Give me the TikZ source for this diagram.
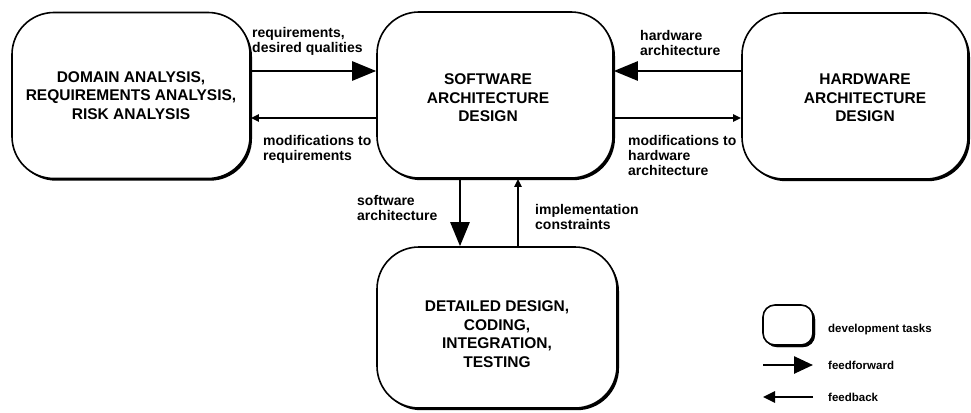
\documentclass[tikz,border=0pt]{standalone}
\usepackage{fontspec}
\setmainfont{Liberation Sans}
\usetikzlibrary{arrows.meta,shadows}
\begin{document}
\begin{tikzpicture}[x=1pt,y=-1pt,
  task/.style={draw,line width=1.6pt,rounded corners=42pt,align=center,
    font=\fontsize{15.5}{18.5}\selectfont\bfseries,
    drop shadow={shadow xshift=2pt,shadow yshift=-2.2pt,fill=black,opacity=1},fill=white},
  lbl/.style={align=left,inner sep=0pt,anchor=north west,
    font=\fontsize{14}{15}\selectfont\bfseries},
  legtxt/.style={inner sep=0pt,anchor=west,font=\fontsize{11.5}{13}\selectfont\bfseries},
  ff/.style={line width=2.6pt,-{Triangle[length=24pt,width=19pt]}},
  fb/.style={line width=2.6pt,-{Triangle[length=8pt,width=7pt]}}]
\useasboundingbox (0,0) rectangle (971,412);

% development tasks
\node[task,minimum width=238pt,minimum height=166pt] (dom) at (131,95.5)
  {DOMAIN ANALYSIS,\\REQUIREMENTS ANALYSIS,\\RISK ANALYSIS};
\node[task,minimum width=236pt,minimum height=166pt] (sad) at (495,95)
  {\rule{0pt}{17pt}\hspace*{-14pt}SOFTWARE\\\hspace*{-14pt}ARCHITECTURE\\\hspace*{-14pt}DESIGN};
\node[task,minimum width=226pt,minimum height=166pt] (had) at (855,96)
  {\rule{0pt}{15pt}\hspace*{20pt}HARDWARE\\\hspace*{20pt}ARCHITECTURE\\\hspace*{20pt}DESIGN};
\node[task,minimum width=240pt,minimum height=161pt] (ddd) at (497,327.5)
  {\rule{0pt}{24pt}DETAILED DESIGN,\\CODING,\\INTEGRATION,\\TESTING};

% levels of the connectors
\coordinate (hi) at (0,71);
\coordinate (lo) at (0,118);
\coordinate (dn) at (460,0);
\coordinate (up) at (518,0);

% connectors
\draw[ff] (dom.east |- hi) -- (sad.west |- hi);
\draw[fb] (sad.west |- lo) -- (dom.east |- lo);
\draw[ff] (had.west |- hi) -- (sad.east |- hi);
\draw[fb] (sad.east |- lo) -- (had.west |- lo);
\draw[ff] (sad.south -| dn) -- (ddd.north -| dn);
\draw[fb] (ddd.north -| up) -- (sad.south -| up);

% connector labels
\node[lbl] (l1) at (252,27) {requirements,\\desired qualities};
\node[lbl] (l2) at (263,135) {modifications to\\requirements};
\node[lbl] (l3) at (640,30) {hardware\\architecture};
\node[lbl] (l4) at (628,135) {modifications to\\hardware\\architecture};
\node[lbl] (l5) at (357,195) {software\\architecture};
\node[lbl] (l6) at (535,204) {implementation\\constraints};

% legend
\node[task,minimum width=50pt,minimum height=40pt,rounded corners=12pt,
  drop shadow={shadow xshift=2pt,shadow yshift=-2pt,fill=black,opacity=1}] (key) at (788,325) {};
\node[legtxt] (kt) at (828,330) {development tasks};
\coordinate (ffa) at (763,365);
\coordinate (ffb) at (813,365);
\draw[line width=2.6pt,-{Triangle[length=19pt,width=17pt]}] (ffa) -- (ffb);
\node[legtxt] (ft) at (828,365) {feedforward};
\coordinate (fba) at (813,397);
\coordinate (fbb) at (763,397);
\draw[line width=2.6pt,-{Triangle[length=12pt,width=11pt]}] (fba) -- (fbb);
\node[legtxt] (bt) at (828,397) {feedback};
\end{tikzpicture}
\end{document}
